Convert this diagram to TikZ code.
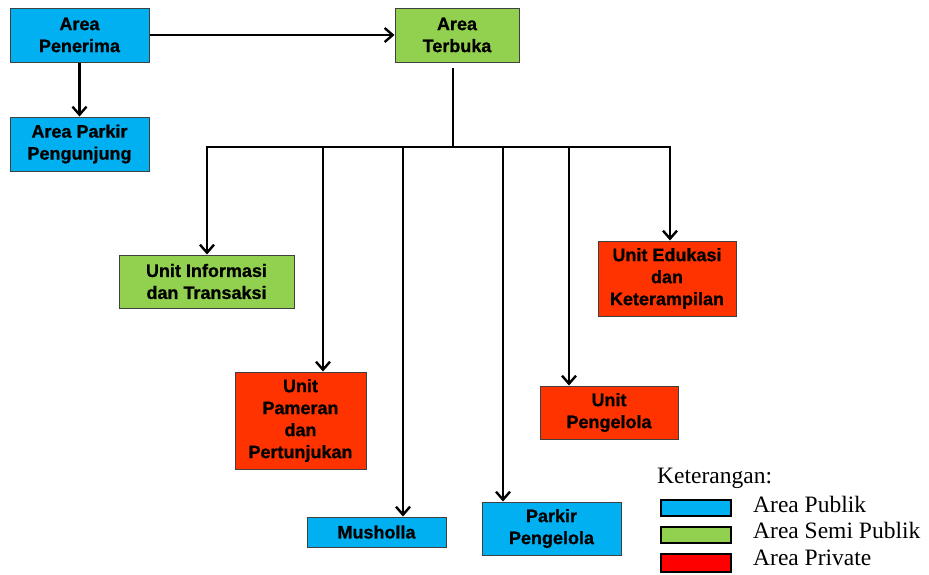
\documentclass[tikz,border=0pt]{standalone}
\usepackage{fontspec}
\setmainfont{Liberation Sans}[BoldFeatures={FakeBold=0.8}]
\newfontfamily\legendfont{Liberation Serif}
\usetikzlibrary{arrows.meta}
\definecolor{cpub}{HTML}{00B0F0}
\definecolor{csemi}{HTML}{92D050}
\definecolor{cpriv}{HTML}{FF3300}
\definecolor{clegred}{HTML}{FF0000}
\definecolor{cborder}{HTML}{404040}
\tikzset{
  bx/.style={draw=cborder, line width=1pt, inner sep=0pt, align=center,
    font=\bfseries\fontsize{18}{22}\selectfont},
  pub/.style={bx, fill=cpub},
  semi/.style={bx, fill=csemi},
  priv/.style={bx, fill=cpriv},
  conn/.style={line width=2.4pt, -{Straight Barb[length=8pt,width=14pt,line width=2.4pt]}},
  plain/.style={line width=2.4pt},
  legbox/.style={draw=black, line width=2pt, inner sep=0pt, minimum width=70pt, minimum height=16pt},
  legtxt/.style={font=\legendfont\fontsize{23.5}{26}\selectfont, anchor=base west, inner sep=0pt}
}
\begin{document}
\begin{tikzpicture}[x=1pt,y=1pt]
\useasboundingbox (0,0) rectangle (929,-574);
% boxes
\node[pub, minimum width=139pt, minimum height=54pt] (pen) at (79.5,-35) {Area\\Penerima};
\node[semi, minimum width=124pt, minimum height=54pt] (ter) at (457,-35) {Area\\Terbuka};
\node[pub, minimum width=139pt, minimum height=54pt] (pkp) at (79.5,-144) {Area Parkir\\Pengunjung};
\node[semi, minimum width=175pt, minimum height=53pt] (inf) at (206.5,-281.5) {Unit Informasi\\dan Transaksi};
\node[priv, minimum width=131pt, minimum height=97pt] (pam) at (300.5,-420.5) {Unit\\Pameran\\dan\\Pertunjukan};
\node[pub, minimum width=139pt, minimum height=30pt] (mus) at (376.5,-532) {Musholla};
\node[pub, minimum width=139pt, minimum height=53pt] (ppg) at (551.5,-528.5) {Parkir\\Pengelola};
\node[priv, minimum width=138pt, minimum height=53pt] (upg) at (609,-412.5) {Unit\\Pengelola};
\node[priv, minimum width=138pt, minimum height=75pt] (edu) at (667,-278.5) {Unit Edukasi\\dan\\Keterampilan};
% connectors
\draw[conn] (pen.east) -- (ter.west);
\draw[conn] (pen.south) -- (pkp.north);
\coordinate (t0) at (453,-68);
\coordinate (t1) at (453,-147);
\coordinate (b1) at (207,-147);
\coordinate (b2) at (323,-147);
\coordinate (b3) at (403,-147);
\coordinate (b4) at (503,-147);
\coordinate (b5) at (569,-147);
\coordinate (b6) at (670,-147);
\draw[plain] (t0) -- (t1);
\draw[plain] ([xshift=-1.2pt]b1) -- ([xshift=1.2pt]b6);
\draw[conn] (b1) -- (b1 |- inf.north);
\draw[conn] (b2) -- (b2 |- pam.north);
\draw[conn] (b3) -- (b3 |- mus.north);
\draw[conn] (b4) -- (b4 |- ppg.north);
\draw[conn] (b5) -- (b5 |- upg.north);
\draw[conn] (b6) -- (b6 |- edu.north);
% legend
\node[legtxt] (ket) at (657,-483) {Keterangan:};
\node[legbox, fill=cpub] (l1) at (695.5,-507.5) {};
\node[legbox, fill=csemi] (l2) at (695.5,-534.5) {};
\node[legbox, fill=clegred, minimum height=18pt] (l3) at (695.5,-563) {};
\node[legtxt] (t1l) at (753,-512) {Area Publik};
\node[legtxt] (t2l) at (753,-538) {Area Semi Publik};
\node[legtxt] (t3l) at (753,-565) {Area Private};
\end{tikzpicture}
\end{document}
